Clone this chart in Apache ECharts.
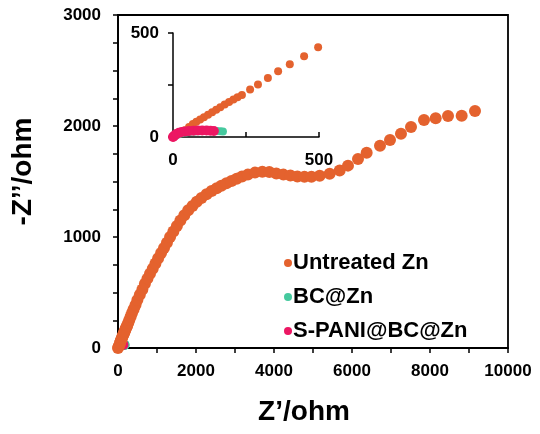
<!DOCTYPE html>
<html>
<head>
<meta charset="utf-8">
<script src="https://cdn.jsdelivr.net/npm/echarts@6/dist/echarts.min.js"></script>
<style>html,body{margin:0;padding:0;background:#fff}#c{width:540px;height:434px}</style>
</head>
<body>
<div id="c"></div>
<script>
// Series names
var seriesNames = ['Untreated Zn', 'BC@Zn', 'S-PANI@BC@Zn'];
// Untreated Zn: [Z', -Z''] in ohm
var untreatedZn = [
  [0,0],[20,15],[40,32],[55,48],[68,62],[80,73],[93,84],[106,95],[120,107],[134,119],[148,131],
  [162,143],[177,156],[192,168],[207,180],[221,191],[236,202],[264,228],[291,253],[325,284],
  [360,316],[400,350],[449,388],[497,432],[560,480],[625,528],[690,578],[755,625],[820,668],
  [890,715],[960,762],[1030,808],[1105,855],[1180,900],[1255,948],[1335,1000],[1420,1050],
  [1510,1100],[1600,1148],[1700,1196],[1800,1240],[1910,1280],[2020,1318],[2140,1352],
  [2270,1385],[2400,1415],[2530,1440],[2650,1462],[2780,1485],[2910,1505],[3043,1525],
  [3180,1545],[3330,1562],[3513,1580],[3700,1588],[3880,1585],[4060,1572],[4240,1562],
  [4420,1553],[4600,1546],[4780,1542],[4960,1543],[5171,1552],[5427,1570],[5684,1600],
  [5897,1643],[6154,1703],[6376,1760],[6718,1822],[6974,1874],[7256,1931],[7513,1991],
  [7846,2054],[8146,2069],[8462,2090],[8812,2093],[9154,2135]
];
// BC@Zn
var bcZn = [
  [0,0],[8,6],[18,12],[30,18],[45,22],[60,25],[75,27],[90,28],[105,29],[120,29],[135,29],
  [150,29],[162,28],[171,27]
];
// S-PANI@BC@Zn
var spaniBcZn = [
  [0,0],[2,2],[6,8],[12,14],[20,20],[30,24],[42,27],[55,29],[70,30],[85,31],[100,31],
  [115,31],[128,30],[140,29]
];
// Axis ticks
var mainXTicks = {min: 0, max: 10000, interval: 2000};
var mainYTicks = {min: 0, max: 3000, interval: 1000};
var insetTicks = {min: 0, max: 500, interval: 250};
var insetLabels = [0, 500];

var colors = ['#E4622E', '#45C99E', '#EC1763'];
var FONT = 'Liberation Sans, Arial, sans-serif';
var chart = echarts.init(document.getElementById('c'), null, {renderer: 'canvas'});

var axisLineStyle = {color: '#000', width: 1.8};
var tickLbl = {color: '#000', fontWeight: 'bold', fontSize: 17, fontFamily: FONT};
function plain(v) { return String(v); }
function insetFmt(v) { return insetLabels.indexOf(v) >= 0 ? String(v) : ''; }

chart.setOption({
  animation: false,
  backgroundColor: '#fff',
  color: colors,
  grid: [
    {left: 118, top: 15, right: 32, bottom: 86, show: true, borderColor: '#000', borderWidth: 1.8},
    {left: 173, top: 33, width: 146, height: 104}
  ],
  legend: {
    data: seriesNames,
    orient: 'vertical',
    left: 279, top: 247,
    icon: 'circle',
    itemWidth: 8, itemHeight: 8, itemGap: 12,
    textStyle: {color: '#000', fontWeight: 'bold', fontSize: 22, fontFamily: FONT, lineHeight: 22, padding: [0,0,0,-4]}
  },
  xAxis: [
    {gridIndex: 0, type: 'value', min: mainXTicks.min, max: mainXTicks.max, interval: mainXTicks.interval,
     name: 'Z\u2019/ohm', nameLocation: 'middle', nameGap: 50,
     nameTextStyle: {color: '#000', fontWeight: 'bold', fontSize: 28, fontFamily: FONT, padding: [0,18,0,0]},
     axisLine: {show: true, lineStyle: axisLineStyle},
     axisTick: {show: true, inside: false, length: 5, lineStyle: {color: '#000', width: 1.5}},
     minorTick: {show: true, splitNumber: 2, length: 5, lineStyle: {color: '#000', width: 1.5}},
     axisLabel: Object.assign({margin: 15, formatter: plain}, tickLbl),
     splitLine: {show: false}},
    {gridIndex: 1, type: 'value', min: insetTicks.min, max: insetTicks.max, interval: insetTicks.interval,
     axisLine: {show: true, lineStyle: {color: '#000', width: 1.5}},
     axisTick: {show: true, inside: true, length: 5, lineStyle: {color: '#000', width: 1.5}},
     axisLabel: Object.assign({margin: 15, formatter: insetFmt}, tickLbl),
     splitLine: {show: false}}
  ],
  yAxis: [
    {gridIndex: 0, type: 'value', min: mainYTicks.min, max: mainYTicks.max, interval: mainYTicks.interval,
     name: '-Z\u2019\u2019/ohm', nameLocation: 'middle', nameGap: 81, nameRotate: 90,
     nameTextStyle: {color: '#000', fontWeight: 'bold', fontSize: 28, fontFamily: FONT, padding: [0,0,0,20]},
     axisLine: {show: true, lineStyle: axisLineStyle},
     axisTick: {show: true, inside: false, length: 5, lineStyle: {color: '#000', width: 1.5}},
     minorTick: {show: true, splitNumber: 4, length: 5, lineStyle: {color: '#000', width: 1.5}},
     axisLabel: Object.assign({margin: 17, formatter: plain}, tickLbl),
     splitLine: {show: false}},
    {gridIndex: 1, type: 'value', min: insetTicks.min, max: insetTicks.max, interval: insetTicks.interval,
     axisLine: {show: true, lineStyle: {color: '#000', width: 1.5}},
     axisTick: {show: true, inside: false, length: 5, lineStyle: {color: '#000', width: 1.5}},
     axisLabel: Object.assign({margin: 14, formatter: insetFmt}, tickLbl),
     splitLine: {show: false}}
  ],
  series: [
    {name: seriesNames[1], type: 'scatter', xAxisIndex: 0, yAxisIndex: 0, data: bcZn, symbolSize: 10, itemStyle: {color: colors[1], opacity: 1}, z: 2},
    {name: seriesNames[2], type: 'scatter', xAxisIndex: 0, yAxisIndex: 0, data: spaniBcZn, symbolSize: 10, itemStyle: {color: colors[2], opacity: 1}, z: 3},
    {name: seriesNames[0], type: 'scatter', xAxisIndex: 0, yAxisIndex: 0, data: untreatedZn, symbolSize: 12, itemStyle: {color: colors[0], opacity: 1}, z: 4},
    {name: seriesNames[0], type: 'scatter', xAxisIndex: 1, yAxisIndex: 1, data: untreatedZn.filter(function (p) { return p[0] <= 500 && p[1] <= 500; }), symbolSize: 8, itemStyle: {color: colors[0], opacity: 1}, z: 5},
    {name: seriesNames[1], type: 'scatter', xAxisIndex: 1, yAxisIndex: 1, data: bcZn, symbolSize: 8, itemStyle: {color: colors[1], opacity: 1}, z: 6},
    {name: seriesNames[2], type: 'scatter', xAxisIndex: 1, yAxisIndex: 1, data: spaniBcZn, symbolSize: 10, itemStyle: {color: colors[2], opacity: 1}, z: 7}
  ]
});
</script>
</body>
</html>
